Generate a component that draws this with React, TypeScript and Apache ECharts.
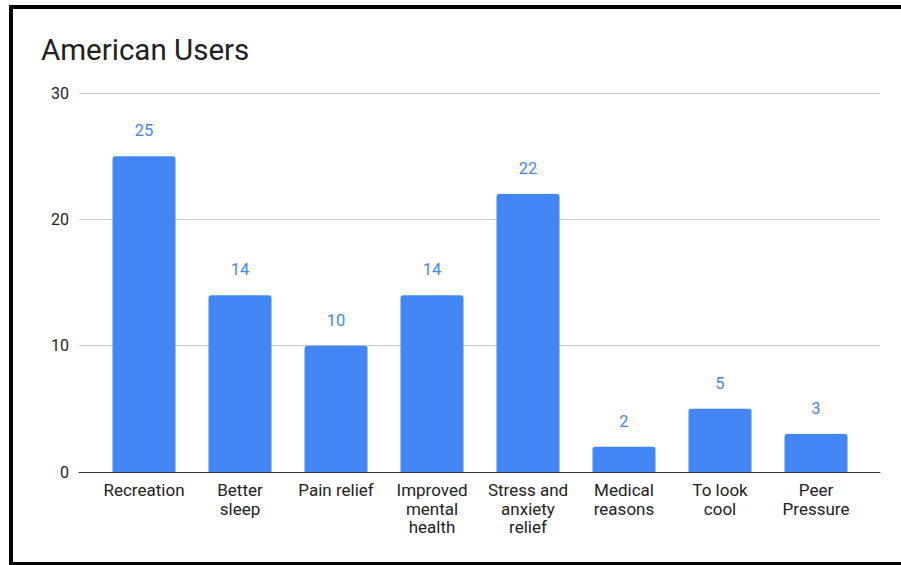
import React, { useEffect, useRef } from "react";
import * as echarts from "echarts";

const titleText = "American Users";
const categories = [
  "Recreation",
  "Better\nsleep",
  "Pain relief",
  "Improved\nmental\nhealth",
  "Stress and\nanxiety\nrelief",
  "Medical\nreasons",
  "To look\ncool",
  "Peer\nPressure",
];
const values = [25, 14, 10, 14, 22, 2, 5, 3];
const yMin = 0;
const yMax = 30;
const yStep = 10;

const FONT = "Roboto, 'Noto Sans', Arial, sans-serif";
const BLUE = "#4285F4";
const TEXT = "#222222";

export default function App() {
  const ref = useRef<HTMLDivElement>(null);

  useEffect(() => {
    if (!ref.current) return;
    const chart = echarts.init(ref.current, undefined, { renderer: "svg" });
    chart.setOption({
      animation: false,
      backgroundColor: "#ffffff",
      textStyle: { fontFamily: FONT },
      title: {
        text: titleText,
        left: 36,
        top: 30,
        textStyle: { fontFamily: FONT, fontSize: 29.5, fontWeight: "normal", color: "#212121" },
      },
      grid: [
        // bars
        { left: 96, right: 37, top: 93, bottom: 93, containLabel: false },
        // gridlines, value labels and baseline
        { left: 79, right: 21, top: 93, bottom: 93, containLabel: false },
      ],
      xAxis: [
        {
          type: "category",
          gridIndex: 0,
          data: categories,
          axisLine: { show: false },
          axisTick: { show: false },
          axisLabel: {
            interval: 0,
            margin: 9,
            fontFamily: FONT,
            fontSize: 17,
            lineHeight: 18.5,
            color: TEXT,
            align: "center",
          },
        },
        {
          type: "value",
          gridIndex: 1,
          min: 0,
          max: 1,
          axisLine: { show: true, lineStyle: { color: "#333333", width: 1 } },
          axisTick: { show: false },
          axisLabel: { show: false },
          splitLine: { show: false },
        },
      ],
      yAxis: [
        {
          type: "value",
          gridIndex: 0,
          min: yMin,
          max: yMax,
          interval: yStep,
          show: false,
          splitLine: { show: false },
        },
        {
          type: "value",
          gridIndex: 1,
          min: yMin,
          max: yMax,
          interval: yStep,
          axisLine: { show: false },
          axisTick: { show: false },
          axisLabel: { margin: 10, fontFamily: FONT, fontSize: 16, color: TEXT },
          splitLine: { show: true, lineStyle: { color: "#cccccc", width: 1 } },
        },
      ],
      series: [
        {
          type: "bar",
          xAxisIndex: 0,
          yAxisIndex: 0,
          data: values,
          barWidth: 63,
          itemStyle: { color: BLUE, borderRadius: [3, 3, 0, 0] },
          label: {
            show: true,
            position: "top",
            distance: 17,
            fontFamily: FONT,
            fontSize: 16.5,
            color: BLUE,
          },
          z: 3,
        },
      ],
      graphic: [
        { type: "rect", shape: { x: 9, y: 5, width: 892, height: 4 }, style: { fill: "#000" }, z: 100 },
        { type: "rect", shape: { x: 9, y: 5, width: 4, height: 560 }, style: { fill: "#000" }, z: 100 },
        { type: "rect", shape: { x: 9, y: 562, width: 892, height: 3 }, style: { fill: "#000" }, z: 100 },
      ],
    });
    return () => chart.dispose();
  }, []);

  return (
    <div
      ref={ref}
      style={{ position: "absolute", left: 0, top: 0, width: 901, height: 565 }}
    />
  );
}
